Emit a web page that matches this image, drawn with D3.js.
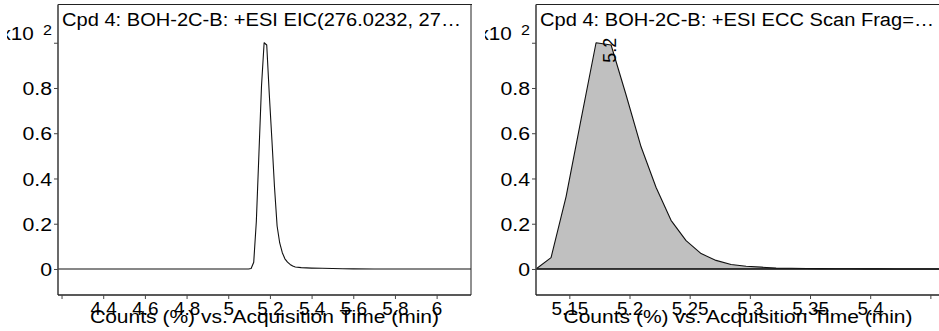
<!DOCTYPE html>
<html>
<head>
<meta charset="utf-8">
<script src="https://cdn.jsdelivr.net/npm/d3@7"></script>
<style>
  html, body { margin: 0; padding: 0; background: #fff; }
  svg { display: block; font-family: "Liberation Sans", Arial, sans-serif; }
</style>
</head>
<body>
<svg id="chart" width="939" height="331"></svg>
<script>
// EIC trace (left panel), counts in units of 10^2 %
const eicTime  = [4.10, 5.0974, 5.1098, 5.1223, 5.1348, 5.1473, 5.1597, 5.1722, 5.1847, 5.1971,
                  5.2096, 5.2221, 5.2345, 5.2470, 5.2595, 5.2719, 5.2844, 5.2969, 5.3094, 5.3218,
                  5.35, 5.40, 5.45, 5.50, 5.55, 5.60, 5.70, 6.30];
const eicValue = [0, 0, 0.002, 0.03, 0.21, 0.51, 0.81, 1.0, 0.99, 0.77,
                  0.57, 0.36, 0.19, 0.115, 0.072, 0.045, 0.03, 0.02, 0.013, 0.009,
                  0.006, 0.004, 0.003, 0.002, 0.001, 0.0005, 0, 0];

// ECC scan trace (right panel)
const eccTime  = [5.1223, 5.1348, 5.1473, 5.1597, 5.1722, 5.1847, 5.1971, 5.2096, 5.2221, 5.2345,
                  5.2470, 5.2595, 5.2719, 5.2844, 5.2969, 5.3094, 5.3218, 5.3343, 5.3468, 5.3592,
                  5.3717, 5.3842, 5.3966, 5.4091, 5.4216, 5.4340, 5.4465, 5.4590];
const eccValue = [0, 0.05, 0.32, 0.66, 1.0, 0.99, 0.77, 0.54, 0.36, 0.215,
                  0.125, 0.068, 0.038, 0.02, 0.012, 0.008, 0.004, 0.003, 0.002, 0.0015,
                  0.001, 0.0008, 0.0005, 0.0003, 0.0002, 0.0001, 0, 0];

const eccPeakTime  = 5.1722;
const eccPeakLabel = '5.2';

const yTicks       = [0, 0.2, 0.4, 0.6, 0.8, 1.0];
const leftXTicks   = [4.2, 4.4, 4.6, 4.8, 5.0, 5.2, 5.4, 5.6, 5.8, 6.0];
const leftXLabels  = ['', '4.4', '4.6', '4.8', '5', '5.2', '5.4', '5.6', '5.8', '6'];
const rightXTicks  = [5.15, 5.20, 5.25, 5.30, 5.35, 5.40, 5.45];
const rightXLabels = ['5.15', '5.2', '5.25', '5.3', '5.35', '5.4', ''];

const leftTitle  = 'Cpd 4: BOH-2C-B: +ESI EIC(276.0232, 27\u2026';
const rightTitle = 'Cpd 4: BOH-2C-B: +ESI ECC Scan Frag=\u2026';
const axisTitle  = 'Counts (%) vs. Acquisition Time (min)';

const svg = d3.select('#chart');
const TOP = 4.5, BOTTOM = 295;
const SX = 1.15;   // the export is a little stretched sideways

const y = d3.scaleLinear().domain([-0.115, 1.169]).range([BOTTOM, TOP]);

function drawPanel(p) {
  const clipId = 'clip-' + p.id;
  const plotId = 'plot-' + p.id;
  const defs = svg.append('defs');
  defs.append('clipPath').attr('id', clipId)
    .append('rect').attr('x', p.axisX - 51).attr('y', 0)
    .attr('width', p.right - p.axisX + 52).attr('height', 331);
  defs.append('clipPath').attr('id', plotId)
    .append('rect').attr('x', p.axisX).attr('y', TOP)
    .attr('width', p.right - p.axisX).attr('height', BOTTOM - TOP);

  const g = svg.append('g').attr('clip-path', `url(#${clipId})`);
  const x = d3.scaleLinear().domain(p.xDomain).range([p.axisX, p.right]);

  const pts = p.time.map((t, i) => [t, p.value[i]]);
  const plot = g.append('g').attr('clip-path', `url(#${plotId})`);

  if (p.fill) {
    plot.append('path')
      .datum(pts)
      .attr('d', d3.area().x(d => x(d[0])).y0(y(0)).y1(d => y(d[1])))
      .attr('fill', '#c0c0c0');
    plot.append('line')
      .attr('x1', p.axisX).attr('x2', p.right)
      .attr('y1', y(0)).attr('y2', y(0))
      .attr('stroke', '#000').attr('stroke-width', 1.5);
  }
  plot.append('path')
    .datum(pts)
    .attr('d', d3.line().x(d => x(d[0])).y(d => y(d[1])))
    .attr('fill', 'none')
    .attr('stroke', '#111')
    .attr('stroke-width', 1.1)
    .attr('stroke-linejoin', 'round');

  // frame
  g.append('line').attr('x1', p.axisX).attr('x2', p.right + 1)
    .attr('y1', TOP).attr('y2', TOP).attr('stroke', '#222').attr('stroke-width', 1);
  if (p.border) {
    g.append('line').attr('x1', p.right).attr('x2', p.right)
      .attr('y1', TOP).attr('y2', BOTTOM).attr('stroke', '#222').attr('stroke-width', 1);
  }

  // y axis
  const yAxis = g.append('g').attr('transform', `translate(${p.axisX},0)`)
    .call(d3.axisLeft(y).tickValues(yTicks).tickSize(4).tickSizeOuter(0)
      .tickFormat(d => d === 1 ? '' : d3.format('.1~f')(d)));
  yAxis.select('.domain').attr('stroke', '#444').attr('stroke-width', 1.6)
    .attr('d', `M0,${TOP}V${BOTTOM}`);
  yAxis.selectAll('.tick line').attr('stroke', '#444');
  yAxis.selectAll('.tick text')
    .attr('font-size', 18.5).attr('fill', '#000').attr('font-family', null)
    .attr('x', -6 / SX).attr('dy', '0.36em')
    .attr('transform', `scale(${SX},1)`);

  // "x10 2" multiplier at the top tick, its "x" cut by the panel edge
  const exp = g.append('text')
    .attr('transform', `translate(${p.axisX - 6},${y(1) - 3}) scale(${SX},1)`)
    .attr('text-anchor', 'end').attr('font-size', 18).attr('fill', '#000');
  exp.append('tspan').text('x10');
  exp.append('tspan').attr('font-size', 14).attr('dx', 8).attr('dy', -5).text('2');

  // x axis
  const xAxis = g.append('g').attr('transform', `translate(0,${BOTTOM})`)
    .call(d3.axisBottom(x).tickValues(p.xTicks).tickSize(4).tickSizeOuter(0)
      .tickFormat((d, i) => p.xLabels[i]));
  xAxis.select('.domain').attr('stroke', '#222').attr('stroke-width', 1.5)
    .attr('d', `M${p.axisX},0H${p.right}`);
  xAxis.selectAll('.tick line').attr('stroke', '#444');
  xAxis.selectAll('.tick text')
    .attr('font-size', 18).attr('fill', '#000').attr('font-family', null)
    .attr('y', 7).attr('dy', '0.71em')
    .attr('transform', 'scale(1.05,1)');

  // titles
  g.append('text')
    .attr('x', p.axisX + 4).attr('y', 26)
    .attr('font-size', 18).attr('fill', '#000')
    .attr('textLength', p.titleLen).attr('lengthAdjust', 'spacingAndGlyphs')
    .text(p.title);
  g.append('text')
    .attr('x', (p.axisX + p.right) / 2).attr('y', 323)
    .attr('text-anchor', 'middle')
    .attr('font-size', 18).attr('fill', '#000')
    .attr('textLength', 349).attr('lengthAdjust', 'spacingAndGlyphs')
    .text(axisTitle);

  return { g, x };
}

drawPanel({
  id: 'eic', axisX: 58, right: 471, border: true,
  xDomain: [4.183, 6.165], time: eicTime, value: eicValue,
  xTicks: leftXTicks, xLabels: leftXLabels,
  title: leftTitle, titleLen: 399
});

const right = drawPanel({
  id: 'ecc', axisX: 536, right: 940, border: false, fill: true,
  xDomain: [5.1223, 5.458], time: eccTime, value: eccValue,
  xTicks: rightXTicks, xLabels: rightXLabels,
  title: rightTitle, titleLen: 394
});

// peak retention-time label, rotated
right.g.append('text')
  .attr('transform', `translate(${right.x(eccPeakTime) + 20},${y(1) + 20}) rotate(-90)`)
  .attr('font-size', 18).attr('fill', '#000')
  .text(eccPeakLabel);
</script>
</body>
</html>
